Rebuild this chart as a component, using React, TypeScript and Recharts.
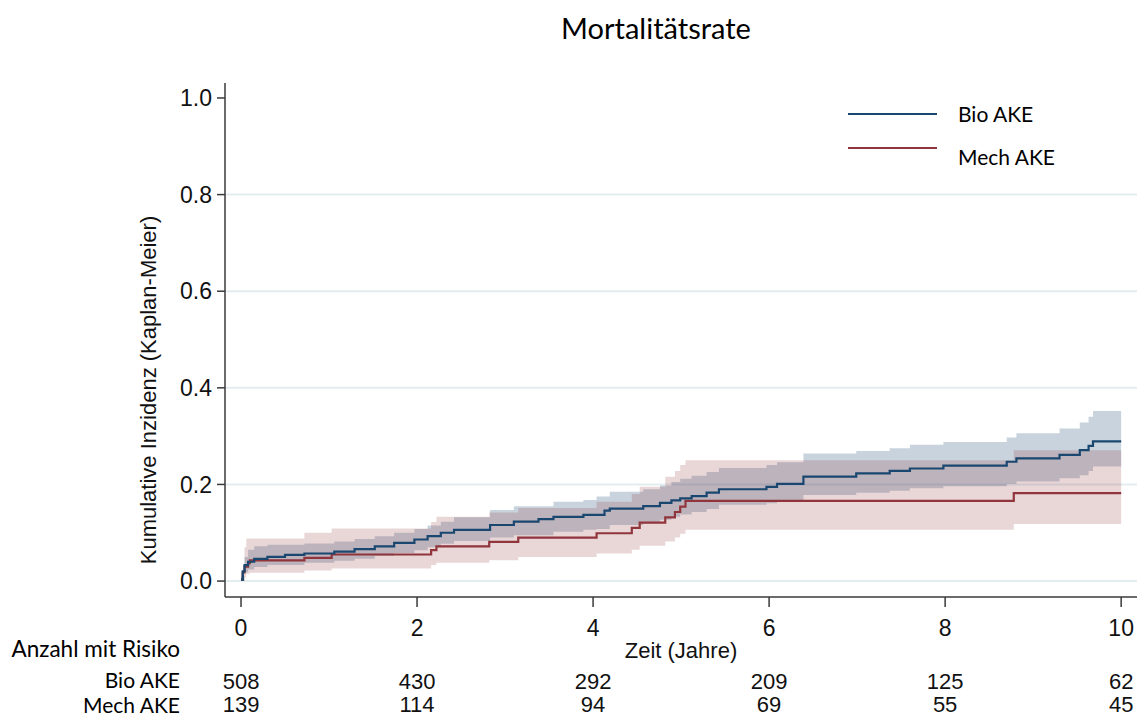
import React from "react";
import {
  ComposedChart,
  Line,
  Area,
  XAxis,
  YAxis,
  CartesianGrid,
} from "recharts";

// ---- data ----
const TIMES = [0, 2, 4, 6, 8, 10];
const Y_TICKS = [0, 0.2, 0.4, 0.6, 0.8, 1.0];
const GRID_VALUES = [0, 0.2, 0.4, 0.6, 0.8];
const RISK_BIO = [508, 430, 292, 209, 125, 62];
const RISK_MECH = [139, 114, 94, 69, 55, 45];

const BIO_LINE: [number, number][] = [
  [0, 0.003], [0.02, 0.02], [0.04, 0.033], [0.08, 0.04], [0.15, 0.046], [0.3, 0.05],
  [0.5, 0.054], [0.72, 0.057], [1.06, 0.061], [1.29, 0.066], [1.52, 0.072], [1.74, 0.079],
  [1.97, 0.086], [2.12, 0.093], [2.27, 0.1], [2.42, 0.106], [2.83, 0.116], [3.1, 0.123],
  [3.38, 0.128], [3.55, 0.133], [3.89, 0.137], [4.13, 0.146], [4.19, 0.15], [4.57, 0.155],
  [4.76, 0.162], [4.89, 0.167], [4.99, 0.171], [5.12, 0.176], [5.29, 0.183], [5.43, 0.19],
  [5.97, 0.195], [6.09, 0.201], [6.39, 0.216], [6.99, 0.223], [7.37, 0.228], [7.6, 0.233],
  [7.98, 0.239], [8.7, 0.247], [8.81, 0.254], [9.3, 0.261], [9.53, 0.271], [9.63, 0.28],
  [9.68, 0.289], [10, 0.289],
];

// [t, lower, upper]
const BIO_BAND: [number, number, number][] = [
  [0, 0.0, 0.01], [0.04, 0.018, 0.05], [0.08, 0.024, 0.065], [0.15, 0.029, 0.072],
  [0.3, 0.033, 0.075], [0.72, 0.038, 0.078], [1.06, 0.042, 0.082], [1.29, 0.046, 0.087],
  [1.52, 0.052, 0.093], [1.74, 0.058, 0.1], [1.97, 0.064, 0.108], [2.12, 0.07, 0.115],
  [2.27, 0.077, 0.123], [2.42, 0.083, 0.132], [2.83, 0.09, 0.147], [3.1, 0.095, 0.155],
  [3.55, 0.102, 0.164], [3.89, 0.106, 0.168], [4.04, 0.108, 0.175], [4.19, 0.116, 0.185],
  [4.57, 0.121, 0.19], [4.76, 0.127, 0.198], [4.89, 0.133, 0.205], [4.99, 0.138, 0.212],
  [5.12, 0.143, 0.218], [5.29, 0.149, 0.226], [5.43, 0.158, 0.234], [5.97, 0.161, 0.24],
  [6.09, 0.165, 0.246], [6.39, 0.178, 0.264], [6.99, 0.183, 0.269], [7.37, 0.187, 0.275],
  [7.6, 0.192, 0.282], [7.98, 0.196, 0.288], [8.7, 0.201, 0.297], [8.81, 0.206, 0.306],
  [9.3, 0.213, 0.316], [9.53, 0.219, 0.328], [9.63, 0.228, 0.34], [9.68, 0.237, 0.352],
  [10, 0.237, 0.352],
];

const MECH_LINE: [number, number][] = [
  [0, 0.003], [0.02, 0.018], [0.04, 0.03], [0.08, 0.037], [0.1, 0.043], [0.72, 0.048],
  [1.03, 0.055], [2.16, 0.064], [2.22, 0.072], [2.82, 0.081], [3.15, 0.09], [4.04, 0.099],
  [4.44, 0.11], [4.53, 0.121], [4.82, 0.132], [4.93, 0.143], [4.99, 0.154], [5.05, 0.166],
  [8.78, 0.182], [10, 0.182],
];

const MECH_BAND: [number, number, number][] = [
  [0, 0.0, 0.02], [0.04, 0.008, 0.07], [0.06, 0.015, 0.088], [0.1, 0.017, 0.088],
  [0.72, 0.022, 0.1], [1.03, 0.026, 0.109], [2.16, 0.033, 0.122], [2.22, 0.038, 0.133],
  [2.82, 0.043, 0.142], [3.15, 0.05, 0.151], [4.04, 0.057, 0.164], [4.44, 0.065, 0.18],
  [4.53, 0.073, 0.195], [4.82, 0.082, 0.216], [4.93, 0.09, 0.228], [4.99, 0.098, 0.24],
  [5.05, 0.106, 0.25], [8.78, 0.118, 0.271], [10, 0.118, 0.271],
];

const bioLine = BIO_LINE.map(([t, v]) => ({ t, v }));
const mechLine = MECH_LINE.map(([t, v]) => ({ t, v }));
const bioBand = BIO_BAND.map(([t, lo, hi]) => ({ t, r: [lo, hi] }));
const mechBand = MECH_BAND.map(([t, lo, hi]) => ({ t, r: [lo, hi] }));

// ---- style ----
const BLUE = "#1a476f";
const RED = "#90353b";
const AXIS = "#3a3a3a";
const NUM_FONT = "'Liberation Sans', Arial, sans-serif";
const TXT_FONT = "Lato, 'Open Sans', sans-serif";
const W = 1137;
const H = 709;
const TICK_SIZE = 10;
const TICK_MARGIN = 2;

const XTick = (props: any) => {
  const { x, y, payload } = props;
  const axisY = y - TICK_SIZE - TICK_MARGIN;
  const i = TIMES.indexOf(payload.value);
  return (
    <g fontFamily={NUM_FONT} fill="#111">
      <text x={x} y={axisY + 39} textAnchor="middle" fontSize={23}>{payload.value}</text>
      {i >= 0 && (
        <text x={x} y={axisY + 92} textAnchor="middle" fontSize={22}>{RISK_BIO[i]}</text>
      )}
      {i >= 0 && (
        <text x={x} y={axisY + 115} textAnchor="middle" fontSize={22}>{RISK_MECH[i]}</text>
      )}
    </g>
  );
};

export default function App() {
  return (
    <div style={{ position: "relative", width: W, height: H }}>
      <ComposedChart
        width={W}
        height={H}
        margin={{ top: 75, right: 8, bottom: 90, left: 157 }}
      >
        <CartesianGrid
          vertical={false}
          horizontalValues={GRID_VALUES}
          stroke="#e3edf0"
          strokeWidth={2}
        />
        <XAxis
          dataKey="t"
          type="number"
          domain={[-0.182, 10.18]}
          allowDataOverflow
          ticks={TIMES}
          height={30}
          tickSize={TICK_SIZE}
          tickMargin={TICK_MARGIN}
          axisLine={{ stroke: AXIS, strokeWidth: 1.5 }}
          tickLine={{ stroke: AXIS, strokeWidth: 1.5 }}
          tick={<XTick />}
          interval={0}
        />
        <YAxis
          type="number"
          domain={[-0.033, 1.031]}
          allowDataOverflow
          ticks={Y_TICKS}
          width={60}
          tickSize={8}
          tickMargin={5}
          tickFormatter={(v: number) => v.toFixed(1)}
          axisLine={{ stroke: AXIS, strokeWidth: 1.5 }}
          tickLine={{ stroke: AXIS, strokeWidth: 1.5 }}
          tick={{ fontFamily: NUM_FONT, fontSize: 23, fill: "#111" }}
          interval={0}
        />
        <Area
          data={bioBand}
          dataKey="r"
          type="stepAfter"
          stroke="none"
          fill={BLUE}
          fillOpacity={0.24}
          isAnimationActive={false}
        />
        <Area
          data={mechBand}
          dataKey="r"
          type="stepAfter"
          stroke="none"
          fill={RED}
          fillOpacity={0.2}
          isAnimationActive={false}
        />
        <Line
          data={mechLine}
          dataKey="v"
          type="stepAfter"
          stroke={RED}
          strokeWidth={2.2}
          dot={false}
          isAnimationActive={false}
        />
        <Line
          data={bioLine}
          dataKey="v"
          type="stepAfter"
          stroke={BLUE}
          strokeWidth={2.2}
          dot={false}
          isAnimationActive={false}
        />
      </ComposedChart>
      <svg
        width={W}
        height={H}
        style={{ position: "absolute", left: 0, top: 0, pointerEvents: "none" }}
      >
        <text x={648} y={31} textAnchor="middle" fontFamily={TXT_FONT} fontSize={29} fill="#000">
          Mortalitätsrate
        </text>
        <text
          x={0}
          y={0}
          transform="translate(148,382) rotate(-90)"
          textAnchor="middle"
          fontFamily={NUM_FONT}
          fontSize={22}
          fill="#111"
        >
          Kumulative Inzidenz (Kaplan-Meier)
        </text>
        <text x={673} y={650} textAnchor="middle" fontFamily={NUM_FONT} fontSize={22} fill="#111">
          Zeit (Jahre)
        </text>
        <text x={172} y={649} textAnchor="end" fontFamily={TXT_FONT} fontSize={22.5} fill="#000">
          Anzahl mit Risiko
        </text>
        <text x={172} y={680} textAnchor="end" fontFamily={TXT_FONT} fontSize={21} fill="#000">
          Bio AKE
        </text>
        <text x={172} y={705} textAnchor="end" fontFamily={TXT_FONT} fontSize={21} fill="#000">
          Mech AKE
        </text>
        <line x1={840} x2={929} y1={106} y2={106} stroke={BLUE} strokeWidth={2.2} />
        <text x={950} y={114} fontFamily={TXT_FONT} fontSize={21} fill="#000">Bio AKE</text>
        <line x1={840} x2={929} y1={140} y2={140} stroke={RED} strokeWidth={2.2} />
        <text x={950} y={157} fontFamily={TXT_FONT} fontSize={21} fill="#000">Mech AKE</text>
      </svg>
    </div>
  );
}
